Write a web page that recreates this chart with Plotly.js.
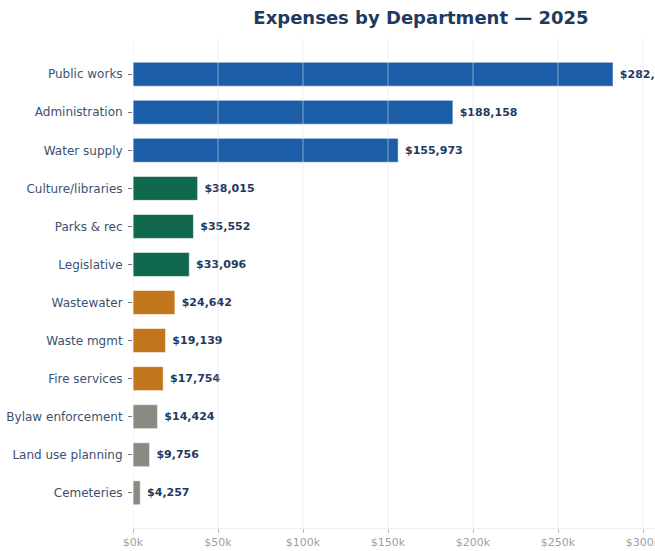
<!DOCTYPE html>
<html>
<head>
<meta charset="utf-8">
<script src="https://cdn.plot.ly/plotly-3.0.1.min.js"></script>
<style>
html, body { margin: 0; padding: 0; overflow: hidden; background: #fff; }
#chart { width: 789px; height: 551px; }
</style>
</head>
<body>
<div id="chart"></div>
<script>
// ---- data ----
const departments = [
  "Public works", "Administration", "Water supply",
  "Culture/libraries", "Parks & rec", "Legislative",
  "Wastewater", "Waste mgmt", "Fire services",
  "Bylaw enforcement", "Land use planning", "Cemeteries"
];
const expenses = [
  282347, 188158, 155973,
  38015, 35552, 33096,
  24642, 19139, 17754,
  14424, 9756, 4257
];
const groups = [
  "tier1", "tier1", "tier1",
  "tier2", "tier2", "tier2",
  "tier3", "tier3", "tier3",
  "tier4", "tier4", "tier4"
];
const xTickVals = [0, 50000, 100000, 150000, 200000, 250000, 300000];
const xTickText = ["$0k", "$50k", "$100k", "$150k", "$200k", "$250k", "$300k"];

// ---- styles ----
const palette = { tier1: "#1b5ea7", tier2: "#10694f", tier3: "#c0761a", tier4: "#8a8982" };
const barColors = groups.map(g => palette[g]);
const xMax = Math.max(...expenses) * 1.2;
const n = departments.length;

const trace = {
  type: "bar",
  orientation: "h",
  y: departments,
  x: expenses,
  marker: { color: barColors, line: { color: "rgba(255,255,255,0.55)", width: 1 } },
  texttemplate: "\u00a0$%{x:,.0f}",
  textposition: "outside",
  cliponaxis: false,
  constraintext: "none",
  textfont: { family: "DejaVu Sans", size: 11, color: "#1f3a5f", weight: "bold" },
  hoverinfo: "none"
};

const gridShapes = xTickVals.map(v => ({
  type: "line", xref: "x", yref: "paper",
  x0: v, x1: v, y0: 0, y1: 1,
  layer: "above",
  line: { color: "rgba(222,226,232,0.55)", width: 1 }
}));

const layout = {
  width: 789,
  height: 551,
  margin: { l: 133, r: 80, t: 39, b: 23 },
  paper_bgcolor: "#ffffff",
  plot_bgcolor: "#ffffff",
  showlegend: false,
  bargap: 0.37,
  title: {
    text: "Expenses by Department \u2014 2025",
    xref: "paper", x: 0.5, xanchor: "center",
    yref: "container", y: 1 - 18 / 551, yanchor: "middle",
    font: { family: "DejaVu Sans", size: 18, color: "#1f3a5f", weight: "bold" }
  },
  xaxis: {
    range: [0, xMax],
    tickvals: xTickVals,
    ticktext: xTickText,
    showgrid: false,
    zeroline: false,
    showline: true,
    linecolor: "#eeeeee",
    linewidth: 1,
    ticks: "outside",
    ticklen: 4,
    tickcolor: "#bbbbbb",
    tickfont: { family: "DejaVu Sans", size: 11, color: "#a0a0a0" }
  },
  yaxis: {
    type: "category",
    categoryorder: "array",
    categoryarray: departments,
    range: [n - 1 + 0.925, -0.925],
    showgrid: false,
    zeroline: false,
    showline: false,
    ticks: "outside",
    ticklen: 4,
    tickcolor: "#777777",
    ticklabelstandoff: 3,
    tickfont: { family: "DejaVu Sans", size: 12, color: "#3c5170" }
  },
  shapes: gridShapes
};

Plotly.newPlot("chart", [trace], layout, { displayModeBar: false, staticPlot: true });
</script>
</body>
</html>
